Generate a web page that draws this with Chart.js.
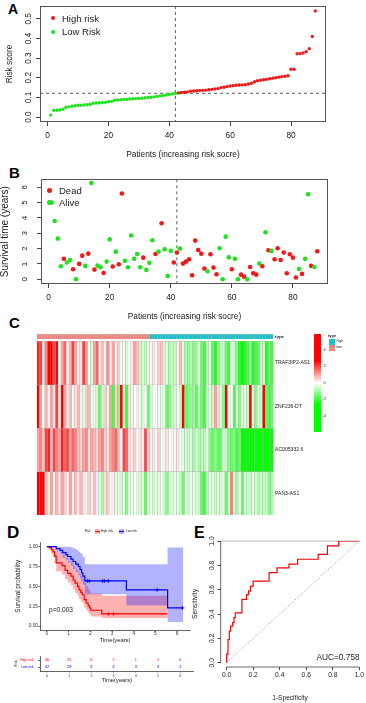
<!DOCTYPE html>
<html>
<head>
<meta charset="utf-8">
<title>Risk model</title>
<script src="https://cdn.jsdelivr.net/npm/chart.js@4.4.1/dist/chart.umd.min.js"></script>
<style>
  html, body { margin: 0; padding: 0; background: #fff; }
  body { position: relative; width: 366px; height: 703px; overflow: hidden; font-family: "Liberation Sans", Arial, sans-serif; color: #222; }
  canvas { position: absolute; }
  .tag { position: absolute; font-weight: bold; line-height: 1; color: #000; }
  .txt { position: absolute; white-space: nowrap; line-height: 1; }
  .dot { position: absolute; border-radius: 50%; }
  .key { position: absolute; }
</style>
</head>
<body>

<div class="tag" style="left:8px;top:1.5px;font-size:14px">A</div>
<div class="tag" style="left:9px;top:164.7px;font-size:15px">B</div>
<div class="tag" style="left:9px;top:314.7px;font-size:15px">C</div>
<div class="tag" style="left:7px;top:523.8px;font-size:17px">D</div>
<div class="tag" style="left:194px;top:524.6px;font-size:16px">E</div>

<canvas id="riskChart" width="330" height="160" style="left:0;top:0"></canvas>
<div class="dot" style="left:50.8px;top:16.1px;width:4.4px;height:4.4px;background:#f21818"></div>
<div class="txt" style="left:62px;top:13.8px;font-size:9.5px">High risk</div>
<div class="dot" style="left:50.8px;top:29.5px;width:4.4px;height:4.4px;background:#1de21d"></div>
<div class="txt" style="left:62px;top:27.2px;font-size:9.5px">Low Risk</div>

<canvas id="survChart" width="332" height="172" style="left:0;top:150px"></canvas>
<div class="dot" style="left:47px;top:188.4px;width:4.7px;height:4.7px;background:#f21818"></div>
<div class="txt" style="left:59px;top:186.2px;font-size:9.5px">Dead</div>
<div class="dot" style="left:47px;top:200px;width:4.7px;height:4.7px;background:#1de21d"></div>
<div class="txt" style="left:59px;top:197.8px;font-size:9.5px">Alive</div>

<canvas id="heatChart" width="310" height="190" style="left:0;top:330px"></canvas>
<div id="heatLegend"></div>

<canvas id="kmChart" width="195" height="119" style="left:0;top:525px"></canvas>
<div class="txt" style="left:84.7px;top:530.2px;font-size:3px">Risk</div>
<div class="key" style="left:95px;top:529.2px;width:5px;height:5px;background:linear-gradient(to bottom,rgba(255,179,179,1) 40%,#f00 40%,#f00 60%,rgba(255,179,179,1) 60%)"></div>
<div class="txt" style="left:101px;top:530.2px;font-size:3px">High risk</div>
<div class="key" style="left:119.3px;top:529.2px;width:5px;height:5px;background:linear-gradient(to bottom,rgba(179,179,255,1) 40%,#00f 40%,#00f 60%,rgba(179,179,255,1) 60%)"></div>
<div class="txt" style="left:126px;top:530.2px;font-size:3px">Low risk</div>
<div class="txt" style="left:49px;top:607px;font-size:6.6px">p=0.003</div>

<canvas id="tableChart" width="195" height="35" style="left:0;top:650px"></canvas>

<canvas id="rocChart" width="181" height="173" style="left:185px;top:530px"></canvas>
<div class="txt" style="left:316.5px;top:652.8px;font-size:8.3px">AUC=0.758</div>

<script>
const FONT = '"Liberation Sans", Arial, sans-serif';
const RED = '#f21818';
const GREEN = '#1de21d';
const KM_RED = '#ff0000';
const KM_BLUE = '#0000ff';
const LOW_SALMON = '#f3867f';
const HIGH_CYAN = '#19c3cc';

// A: risk score of each patient, sorted
const riskScore = [
  0.01, 0.035, 0.035, 0.036, 0.04, 0.05, 0.052, 0.055, 0.058, 0.06,
  0.06, 0.062, 0.063, 0.065, 0.07, 0.072, 0.073, 0.074, 0.075, 0.078,
  0.08, 0.085, 0.087, 0.088, 0.09, 0.09, 0.092, 0.093, 0.094, 0.095,
  0.096, 0.098, 0.1, 0.101, 0.103, 0.105, 0.108, 0.11, 0.112, 0.115,
  0.118, 0.12, 0.123, 0.125, 0.126, 0.128, 0.132, 0.133, 0.134, 0.135,
  0.136, 0.137, 0.139, 0.141, 0.143, 0.145, 0.15, 0.152, 0.155, 0.158,
  0.16, 0.162, 0.163, 0.164, 0.165, 0.168, 0.172, 0.18, 0.185, 0.187,
  0.19, 0.192, 0.195, 0.198, 0.2, 0.203, 0.206, 0.208, 0.21, 0.243,
  0.243, 0.322, 0.323, 0.326, 0.333, 0.348, 0.41, 0.54
];
const patients = riskScore.map((_, i) => i + 1);
const cutoffPatient = 42;
const cutoffScore = 0.121;
const patientTicks = [0, 20, 40, 60, 80];
const riskTicks = [0, 0.1, 0.2, 0.3, 0.4, 0.5];

// B: survival time (years) and status (1 = dead)
const survTime = [
  5.0, 3.8, 2.65, 0.85, 1.33, 1.09, 1.26, 0.65, 0.0, 1.0,
  1.54, 0.87, 1.67, 6.28, 0.63, 0.89, 0.78, 0.41, 1.15, 2.6,
  0.83, 1.8, 0.98, 5.59, 1.2, 0.78, 2.85, 1.33, 1.65, 0.78,
  1.41, 0.61, 1.07, 2.54, 1.65, 1.8, 3.65, 1.96, 0.22, 1.85,
  1.09, 1.74, 2.0, 1.02, 1.15, 1.3, 0.26, 2.52, 1.91, 1.67,
  0.7, 0.52, 1.63, 0.76, 0.33, 2.02, 0.0, 2.78, 1.43, 0.65,
  1.33, 0.0, 0.3, 0.17, 0.0, 0.8, 0.39, 0.3, 1.02, 0.85,
  3.07, 1.89, 1.85, 1.3, 2.02, 1.26, 1.74, 0.39, 1.63, 1.41,
  0.11, 0.67, 0.35, 1.33, 5.54, 0.87, 0.8, 1.83
];
const survDead = [
  0, 0, 0, 0, 1, 0, 0, 1, 0, 1,
  1, 0, 1, 0, 1, 0, 0, 1, 0, 0,
  1, 0, 1, 1, 0, 0, 0, 0, 0, 0,
  1, 0, 0, 0, 1, 0, 1, 0, 0, 0,
  1, 1, 0, 1, 1, 1, 1, 1, 1, 1,
  1, 0, 1, 1, 1, 0, 0, 0, 0, 1,
  0, 0, 1, 1, 0, 1, 1, 1, 0, 1,
  0, 1, 0, 1, 1, 1, 1, 1, 1, 1,
  1, 0, 1, 0, 0, 1, 0, 1
];
const survTicks = [0, 1, 2, 3, 4, 5, 6];

// C: expression heatmap (patients in risk order)
const genes = ['TRAF3IP2-AS1', 'ZNF236-DT', 'AC005332.6', 'PAN3-AS1'];
const exprTRAF3IP2 = [
  3.5, 3, 0.5, 2, 4, 4.5, 3, 4, 0, 1.5,
  2.5, 0.3, 1.2, 3, 1.5, 0.2, 0.5, 3, 1.5, 0,
  -0.8, 1.5, 2.5, 0.5, 1, 0.3, 1.8, 0.4, 1.5, 0.3,
  0.8, -0.3, 0.2, -0.8, 0, 0.4, 1.5, 1, -1, -0.5,
  -1.2, 0.2, -0.3, 0.5, 0, 0.8, 1, -0.8, -0.5, -1.3,
  -0.8, -1, 0.2, 1.2, -0.5, -1.5, -1.8, -1.2, -2, -1.5,
  -0.5, -2.5, -3, -1, -0.5, -2.5, -3.5, -2, -0.8, -1,
  -2.5, -3, -0.3, -1, -2, -3.5, -4, -3.5, -3, -1.5,
  -3.5, -3, -2.5, -0.5, -1, -3.5, -2.5, -3
];
const exprZNF236 = [
  4.5, 1.5, 0, 1.2, 0.2, 1.5, 0.5, 3, 0.5, 4.5,
  1.5, 0.3, 1, -0.3, 0.5, 1.2, 0.2, -0.5, 0.8, 1.2,
  -0.5, 0.3, -0.8, -2.5, -0.5, 0.8, -0.5, 1.5, -3, 0.8,
  -2, 4.5, -1, -3, 0.5, -0.5, 0, 0.3, -0.5, -0.8,
  0, -2.5, -0.5, 0, -0.3, 0.2, -0.5, -0.3, -2.5, -2,
  -0.5, -0.8, -0.2, -1, 4.8, -2.5, -2, -1.8, -1.5, -2.5,
  -1, -2.5, -3, -0.5, -0.5, -1, 1.5, 0.5, -0.5, -2,
  4, -0.5, 0, -3, -0.5, -2, 0.3, -0.5, -1, 4.5,
  -0.5, -2, -0.3, -1, 4, -2.5, -3, -2.5
];
const exprAC005332 = [
  1.5, 2, 1, 3, 3.5, 1.2, 3, 2, 1.5, 3.5,
  2.5, 3, 1.5, 2.5, 2, 1, 0.8, 1.5, 2, 0.5,
  1.5, 1.2, 0.8, 1.5, 2, 0.8, 0.5, 1.5, 2, 2.5,
  1, 0.3, 3, 2.5, 0.5, 0.3, 0.8, 0, 0.5, 0.3,
  3, 0.8, 0.2, 0.5, 0, 0.8, -0.3, 0.2, 0.5, 0,
  -0.3, 0.2, 0.5, -0.2, -0.5, -0.8, -1, -0.5, -1.5, -0.5,
  -1.5, -1, -1.2, -0.3, -2, -2.5, -2, -2.5, -2.5, -0.5,
  -1, -2, -2.5, -2, -3, -2.5, -4, -4.5, -4, -4.5,
  -5, -4.5, -5, -4.5, -5, -5, -4.5, -5
];
const exprPAN3 = [
  4.5, 4.5, 4, 1, -0.8, 1.5, 0.3, 1.2, 0.5, 1.5,
  0.8, 0.2, 1.5, 0.3, 1, 0.2, 1.2, 0.5, 0.2, 0.8,
  0.3, 1, 0.2, -0.5, -1.5, 0.5, 0.8, -0.3, 0.3, -0.5,
  0.3, -0.8, -0.3, -2, -0.5, -0.3, 0, -0.5, -0.8, -0.3,
  -2.5, -0.5, 0, -0.8, -0.3, -0.5, -0.2, -1, -2, -0.8,
  -0.5, -0.3, -0.5, -0.8, -2.5, -0.5, -0.8, -0.3, -0.5, -0.5,
  -1, -2.5, -3, -0.8, -0.5, -0.3, -1, -0.5, -0.8, -0.5,
  -2.5, -0.8, 2, -0.5, -1.5, -0.3, -2.5, -0.5, -0.8, -1,
  -0.5, -0.8, -1.2, -0.8, -1, -0.8, -2, -1.5
];
const heatLegendTicks = [4, 2, 0, -2, -4];
const typeLegend = ['high', 'low'];

// D: Kaplan-Meier curves
const highTimes = [0, 0.1, 0.21, 0.28, 0.36, 0.43, 0.7, 0.84, 0.96, 1.11, 1.21, 1.3, 1.41, 1.48, 1.56, 1.63, 1.72, 1.81, 1.9, 1.96, 2.02, 2.53, 5.56];
const highSurv  = [1, 0.987, 0.963, 0.934, 0.88, 0.797, 0.76, 0.705, 0.664, 0.63, 0.58, 0.54, 0.5, 0.456, 0.423, 0.394, 0.332, 0.29, 0.257, 0.228, 0.199, 0.154, 0.154];
const highUpper = [1, 1, 1, 1, 0.98, 0.93, 0.9, 0.86, 0.82, 0.8, 0.76, 0.72, 0.69, 0.66, 0.63, 0.6, 0.55, 0.5, 0.47, 0.44, 0.41, 0.38, 0.38];
const highLower = [1, 0.96, 0.91, 0.87, 0.79, 0.69, 0.65, 0.59, 0.55, 0.51, 0.46, 0.42, 0.38, 0.34, 0.31, 0.29, 0.23, 0.2, 0.17, 0.15, 0.12, 0.1, 0.1];
const highCensor = [2.83, 3.06];
const lowTimes = [0, 0.43, 0.61, 0.73, 0.88, 0.96, 1.11, 1.21, 1.33, 1.45, 1.53, 1.6, 1.66, 1.75, 3.66, 5.56, 6.28];
const lowSurv  = [1, 0.975, 0.954, 0.925, 0.9, 0.876, 0.842, 0.813, 0.78, 0.75, 0.71, 0.67, 0.63, 0.568, 0.456, 0.228, 0.228];
const lowUpper = [1, 1, 1, 1, 1, 1, 0.99, 0.98, 0.96, 0.94, 0.92, 0.9, 0.87, 0.78, 0.78, 0.99, 0.99];
const lowLower = [1, 0.93, 0.9, 0.86, 0.83, 0.8, 0.76, 0.72, 0.68, 0.64, 0.6, 0.56, 0.52, 0.4, 0.26, 0.05, 0.05];
const lowCensor = [1.86, 1.96, 2.56, 2.65, 2.83, 5.08, 6.24];
const kmTimeTicks = [0, 1, 2, 3, 4, 5, 6];
const kmSurvTicks = [0, 0.25, 0.5, 0.75, 1];
const riskGroups = ['High risk', 'Low risk'];
const atRiskHigh = [46, 25, 6, 2, 1, 1, 0];
const atRiskLow = [42, 29, 9, 6, 3, 3, 1];

// E: ROC curve
const rocFpr = [0, 0, 0.01, 0.01, 0.02, 0.02, 0.03, 0.03, 0.045, 0.045, 0.055, 0.055, 0.065, 0.065, 0.08, 0.08, 0.115, 0.115, 0.15, 0.15, 0.165, 0.165, 0.18, 0.18, 0.2, 0.2, 0.32, 0.32, 0.38, 0.38, 0.47, 0.47, 0.535, 0.535, 0.69, 0.69, 0.76, 0.76, 0.845, 0.845, 1];
const rocTpr = [0, 0.07, 0.07, 0.19, 0.19, 0.26, 0.26, 0.3, 0.3, 0.33, 0.33, 0.37, 0.37, 0.41, 0.41, 0.41, 0.41, 0.52, 0.52, 0.56, 0.56, 0.59, 0.59, 0.63, 0.63, 0.67, 0.67, 0.74, 0.74, 0.78, 0.78, 0.81, 0.81, 0.85, 0.85, 0.89, 0.89, 0.96, 0.96, 1, 1];
const rocTicks = [0, 0.2, 0.4, 0.6, 0.8, 1];

Chart.defaults.font.family = FONT;
Chart.defaults.color = '#222';
Chart.defaults.animation = false;
Chart.defaults.plugins.legend.display = false;
Chart.defaults.plugins.tooltip.enabled = false;

const setTicks = values => scale => { scale.ticks = values.map(v => ({ value: v })); };

// box round the plot region (R base graphics)
function boxFrame(color) {
  return {
    id: 'boxFrame',
    afterDatasetsDraw(chart) {
      const { ctx, chartArea: a } = chart;
      ctx.save();
      ctx.strokeStyle = color;
      ctx.lineWidth = 1;
      ctx.strokeRect(Math.round(a.left) + 0.5, Math.round(a.top) + 0.5,
        Math.round(a.right - a.left) - 1, Math.round(a.bottom - a.top) - 1);
      ctx.restore();
    }
  };
}

// dashed cut-off lines
function cutLines(xVal, yVal) {
  return {
    id: 'cutLines',
    beforeDatasetsDraw(chart) {
      const { ctx, chartArea: a, scales } = chart;
      ctx.save();
      ctx.setLineDash([3, 3]);
      ctx.strokeStyle = '#333';
      ctx.lineWidth = 0.8;
      ctx.beginPath();
      if (xVal != null) {
        const px = scales.x.getPixelForValue(xVal);
        ctx.moveTo(px, a.top); ctx.lineTo(px, a.bottom);
      }
      if (yVal != null) {
        const py = scales.y.getPixelForValue(yVal);
        ctx.moveTo(a.left, py); ctx.lineTo(a.right, py);
      }
      ctx.stroke();
      ctx.restore();
    }
  };
}

// R style y tick labels, parallel to the axis
function rotatedYLabels(values, offset, size, decimals) {
  return {
    id: 'rotY',
    afterDraw(chart) {
      const { ctx, chartArea: a } = chart;
      const s = chart.scales.y;
      ctx.save();
      ctx.font = size + 'px ' + FONT;
      ctx.fillStyle = '#222';
      ctx.textAlign = 'center';
      ctx.textBaseline = 'middle';
      values.forEach(v => {
        ctx.save();
        ctx.translate(a.left - offset, s.getPixelForValue(v));
        ctx.rotate(-Math.PI / 2);
        ctx.fillText(v.toFixed(decimals), 0, 0);
        ctx.restore();
      });
      ctx.restore();
    }
  };
}

const rAxisGrid = { drawOnChartArea: false, tickLength: 4, color: '#444' };

// ---------- A ----------
new Chart(document.getElementById('riskChart'), {
  type: 'scatter',
  data: {
    datasets: [{
      data: riskScore.map((v, i) => ({ x: patients[i], y: v })),
      pointRadius: 1.7,
      pointBorderWidth: 0,
      pointBackgroundColor: patients.map(p => p > cutoffPatient ? RED : GREEN)
    }]
  },
  options: {
    responsive: false,
    layout: { padding: { top: 6, right: 0, bottom: 0, left: 0 } },
    scales: {
      x: {
        type: 'linear', min: -2.5, max: 91.5,
        afterBuildTicks: setTicks(patientTicks),
        afterFit: s => { s.height = 38; },
        border: { display: false },
        grid: rAxisGrid,
        ticks: { font: { size: 8.3 }, color: '#222', padding: 5, maxRotation: 0 },
        title: { display: true, text: 'Patients (increasing risk socre)', font: { size: 8.3 }, color: '#222', padding: { top: 0, bottom: 0 } }
      },
      y: {
        min: -0.025, max: 0.565,
        afterBuildTicks: setTicks(riskTicks),
        afterFit: s => { s.width = 40; },
        border: { display: false },
        grid: rAxisGrid,
        ticks: { display: false },
        title: { display: true, text: 'Risk score', font: { size: 8.3 }, color: '#222', padding: { top: 5, bottom: 0 } }
      }
    }
  },
  plugins: [boxFrame('#555'), cutLines(cutoffPatient, cutoffScore), rotatedYLabels(riskTicks, 11.5, 8.3, 1)]
});

// ---------- B ----------
new Chart(document.getElementById('survChart'), {
  type: 'scatter',
  data: {
    datasets: [{
      data: survTime.map((v, i) => ({ x: patients[i], y: v })),
      pointRadius: 2.3,
      pointBorderWidth: 0,
      pointBackgroundColor: survDead.map(d => d ? RED : GREEN)
    }]
  },
  options: {
    responsive: false,
    layout: { padding: { top: 29.3, right: 0, bottom: 0, left: 0 } },
    scales: {
      x: {
        type: 'linear', min: -2.5, max: 91.5,
        afterBuildTicks: setTicks(patientTicks),
        afterFit: s => { s.height = 38; },
        border: { display: false },
        grid: rAxisGrid,
        ticks: { font: { size: 8.3 }, color: '#222', padding: 5, maxRotation: 0 },
        title: { display: true, text: 'Patients (increasing risk socre)', font: { size: 8.3 }, color: '#222', padding: { top: 0, bottom: 0 } }
      },
      y: {
        min: -0.31, max: 6.52,
        afterBuildTicks: setTicks(survTicks),
        afterFit: s => { s.width = 41; },
        border: { display: false },
        grid: rAxisGrid,
        ticks: { display: false },
        title: { display: true, text: 'Survival time (years)', font: { size: 10 }, color: '#222', padding: { top: -1, bottom: 0 } }
      }
    }
  },
  plugins: [boxFrame('#555'), cutLines(cutoffPatient, null), rotatedYLabels(survTicks, 16.5, 8, 0)]
});

// ---------- C ----------
const HEAT_SAT = 4;
function heatColor(v) {
  const t = Math.max(-1, Math.min(1, v / HEAT_SAT));
  if (t >= 0) {
    const c = Math.round(255 * (1 - t));
    return 'rgb(255,' + c + ',' + c + ')';
  }
  const c = Math.round(255 * (1 + t));
  return 'rgb(' + c + ',255,' + c + ')';
}
const heatRows = [exprTRAF3IP2, exprZNF236, exprAC005332, exprPAN3];
const annoBottom = 4.053, annoTop = 4.161;
const heatCell = { borderColor: '#ababab', borderWidth: 0.35, borderSkipped: false, barPercentage: 1, categoryPercentage: 1, grouped: false };

new Chart(document.getElementById('heatChart'), {
  type: 'bar',
  data: {
    labels: patients,
    datasets: heatRows.map((vals, r) => Object.assign({
      data: vals.map(() => [genes.length - 1 - r, genes.length - r]),
      backgroundColor: vals.map(heatColor)
    }, heatCell)).concat([Object.assign({
      data: patients.map(() => [annoBottom, annoTop]),
      backgroundColor: patients.map(p => p > cutoffPatient ? HIGH_CYAN : LOW_SALMON)
    }, heatCell)])
  },
  options: {
    responsive: false,
    layout: { padding: { top: 4, right: 0, bottom: 5, left: 36.7 } },
    scales: {
      x: { type: 'category', display: false },
      y: {
        type: 'linear', position: 'right', min: 0, max: annoTop,
        afterBuildTicks: s => {
          s.ticks = genes.map((g, i) => ({ value: genes.length - i - 0.5 })).reverse()
            .concat([{ value: (annoBottom + annoTop) / 2 }]);
        },
        afterFit: s => { s.width = 36.7; },
        border: { display: false },
        grid: { display: false, drawTicks: false },
        ticks: {
          padding: 1.7, color: '#222', autoSkip: false,
          font: c => c.index === genes.length ? { size: 4.4, weight: 'bold' } : { size: 5.1 },
          callback: (v, i) => genes.slice().reverse().concat(['type'])[i]
        }
      }
    }
  }
});

// heatmap legends (colour key and annotation key)
(function () {
  const host = document.getElementById('heatLegend');
  const barTop = 334, barH = 97.7, vTop = 5.9, pxPerUnit = 8.25;
  const bar = document.createElement('div');
  bar.className = 'key';
  bar.style.cssText = 'left:314px;top:' + barTop + 'px;width:7px;height:' + barH + 'px;' +
    'background:linear-gradient(to bottom,#f00 0%,#f00 27%,#fff 50%,#0f0 72%,#0f0 100%)';
  host.appendChild(bar);
  heatLegendTicks.forEach(v => {
    const d = document.createElement('div');
    d.className = 'txt';
    d.textContent = String(v);
    d.style.cssText = 'left:' + (v < 0 ? 322.3 : 323.5) + 'px;top:' + (barTop + (vTop - v) * pxPerUnit - 2) + 'px;font-size:4px';
    host.appendChild(d);
  });
  const t = document.createElement('div');
  t.className = 'txt';
  t.textContent = 'type';
  t.style.cssText = 'left:328px;top:333.6px;font-size:4px;font-weight:bold';
  host.appendChild(t);
  typeLegend.forEach((name, i) => {
    const k = document.createElement('div');
    k.className = 'key';
    k.style.cssText = 'left:329px;top:' + (339 + i * 6) + 'px;width:6px;height:5.5px;background:' + (i === 0 ? HIGH_CYAN : LOW_SALMON);
    host.appendChild(k);
    const l = document.createElement('div');
    l.className = 'txt';
    l.textContent = name;
    l.style.cssText = 'left:336.5px;top:' + (340 + i * 6) + 'px;font-size:3.6px';
    host.appendChild(l);
  });
})();

// ---------- D ----------
const kmPoints = (times, vals) => times.map((t, i) => ({ x: t, y: vals[i] }));
function survAt(times, surv, t) {
  let s = surv[0];
  times.forEach((ti, i) => { if (ti <= t) s = surv[i]; });
  return s;
}
const kmLine = { stepped: 'before', pointRadius: 0, borderWidth: 1.2, fill: false, order: 0 };
const kmBand = { stepped: 'before', pointRadius: 0, borderWidth: 0, order: 3 };
const kmAxisGrid = { drawOnChartArea: false, tickLength: 1.5, color: '#000', lineWidth: 0.6 };

new Chart(document.getElementById('kmChart'), {
  type: 'line',
  data: {
    datasets: [
      Object.assign({ data: kmPoints(lowTimes, lowSurv), borderColor: KM_BLUE }, kmLine),
      Object.assign({ data: kmPoints(highTimes, highSurv), borderColor: KM_RED }, kmLine),
      { type: 'scatter', data: lowCensor.map(t => ({ x: t, y: survAt(lowTimes, lowSurv, t) })), pointStyle: 'cross', pointRadius: 2, pointBorderWidth: 0.8, pointBorderColor: KM_BLUE, order: 0 },
      { type: 'scatter', data: highCensor.map(t => ({ x: t, y: survAt(highTimes, highSurv, t) })), pointStyle: 'cross', pointRadius: 2, pointBorderWidth: 0.8, pointBorderColor: KM_RED, order: 0 },
      Object.assign({ data: kmPoints(lowTimes, lowUpper), fill: false }, kmBand),
      Object.assign({ data: kmPoints(lowTimes, lowLower), fill: '-1', backgroundColor: 'rgba(0,0,255,0.3)' }, kmBand),
      Object.assign({ data: kmPoints(highTimes, highUpper), fill: false }, kmBand),
      Object.assign({ data: kmPoints(highTimes, highLower), fill: '-1', backgroundColor: 'rgba(255,0,0,0.3)' }, kmBand)
    ]
  },
  options: {
    responsive: false,
    layout: { padding: { top: 17.7, right: 1.5, bottom: 0, left: 0 } },
    scales: {
      x: {
        type: 'linear', min: -0.315, max: 6.6,
        afterBuildTicks: setTicks(kmTimeTicks),
        afterFit: s => { s.height = 14; },
        border: { color: '#000', width: 0.6 },
        grid: kmAxisGrid,
        ticks: { font: { size: 4.8 }, color: '#333', padding: -0.5, maxRotation: 0 },
        title: { display: true, text: 'Time(years)', font: { size: 5.8 }, color: '#222', padding: { top: 0, bottom: 0 } }
      },
      y: {
        type: 'linear', min: -0.05, max: 1.05,
        afterBuildTicks: setTicks(kmSurvTicks),
        afterFit: s => { s.width = 40; },
        border: { color: '#000', width: 0.6 },
        grid: kmAxisGrid,
        ticks: { font: { size: 4.8 }, color: '#333', padding: 0.5, callback: v => v.toFixed(2) },
        title: { display: true, text: 'Survival probability', font: { size: 6.3 }, color: '#222', padding: { top: 14.2, bottom: 0 } }
      }
    }
  }
});

// numbers at risk
new Chart(document.getElementById('tableChart'), {
  type: 'scatter',
  data: { datasets: [] },
  options: {
    responsive: false,
    layout: { padding: { top: 6.3, right: 1.5, bottom: 0, left: 0 } },
    scales: {
      x: {
        type: 'linear', min: -0.315, max: 6.6,
        afterBuildTicks: setTicks(kmTimeTicks),
        afterFit: s => { s.height = 14; },
        border: { color: '#000', width: 0.6 },
        grid: kmAxisGrid,
        ticks: { font: { size: 3.6 }, color: '#333', padding: 1.1, maxRotation: 0 },
        title: { display: true, text: 'Time(years)', font: { size: 5.8 }, color: '#222', padding: { top: 0, bottom: 1.5 } }
      },
      y: {
        type: 'category', labels: riskGroups, offset: true,
        afterFit: s => { s.width = 40; },
        border: { color: '#000', width: 0.6 },
        grid: { drawOnChartArea: false, tickLength: 2, color: '#000', lineWidth: 0.6, offset: false },
        ticks: { font: { size: 3.4 }, padding: 4.5, color: c => c.index === 0 ? KM_RED : KM_BLUE },
        title: { display: true, text: 'Risk', font: { size: 3.4 }, color: '#222', padding: { top: 13.9, bottom: 0 } }
      }
    }
  },
  plugins: [{
    id: 'atRisk',
    afterDraw(chart) {
      const { ctx, scales: { x, y } } = chart;
      ctx.save();
      ctx.font = '3.9px ' + FONT;
      ctx.textAlign = 'center';
      ctx.textBaseline = 'middle';
      [atRiskHigh, atRiskLow].forEach((row, r) => {
        ctx.fillStyle = r === 0 ? KM_RED : KM_BLUE;
        row.forEach((n, i) => ctx.fillText(String(n), x.getPixelForValue(kmTimeTicks[i]), y.getPixelForValue(r)));
      });
      ctx.restore();
    }
  }]
});

// ---------- E ----------
new Chart(document.getElementById('rocChart'), {
  type: 'line',
  data: {
    datasets: [{
      data: rocFpr.map((f, i) => ({ x: f, y: rocTpr[i] })),
      borderColor: KM_RED, borderWidth: 1.2, pointRadius: 0, tension: 0, fill: false
    }]
  },
  options: {
    responsive: false,
    layout: { padding: { top: 11, right: 6.7, bottom: 0, left: 0 } },
    scales: {
      x: {
        type: 'linear', min: -0.045, max: 1,
        afterBuildTicks: setTicks(rocTicks),
        afterFit: s => { s.height = 36; },
        border: { display: false },
        grid: { drawOnChartArea: false, tickLength: 3, color: '#444' },
        ticks: { font: { size: 6.7 }, color: '#222', padding: 1, maxRotation: 0, callback: v => v.toFixed(1) },
        title: { display: true, text: '1-Specificity', font: { size: 6.6 }, color: '#222', padding: { top: 0, bottom: 1 } }
      },
      y: {
        type: 'linear', min: -0.035, max: 1,
        afterBuildTicks: setTicks(rocTicks),
        afterFit: s => { s.width = 35.7; },
        border: { display: false },
        grid: { drawOnChartArea: false, tickLength: 3, color: '#444' },
        ticks: { display: false },
        title: { display: true, text: 'Sensitivity', font: { size: 6.7 }, color: '#222', padding: { top: 6, bottom: 0 } }
      }
    }
  },
  plugins: [rotatedYLabels(rocTicks, 8.9, 6.7, 1), {
    id: 'rocAxes',
    beforeDatasetsDraw(chart) {
      const { ctx, chartArea: a, scales: { x, y } } = chart;
      const lo = rocTicks[0], hi = rocTicks[rocTicks.length - 1];
      ctx.save();
      ctx.strokeStyle = '#444';
      ctx.lineWidth = 0.8;
      ctx.beginPath();
      ctx.moveTo(x.getPixelForValue(lo), a.bottom); ctx.lineTo(x.getPixelForValue(hi), a.bottom);
      ctx.moveTo(a.left, y.getPixelForValue(lo)); ctx.lineTo(a.left, y.getPixelForValue(hi));
      ctx.stroke();
      ctx.strokeStyle = '#999';
      ctx.lineWidth = 0.7;
      ctx.beginPath();
      ctx.moveTo(a.left, y.getPixelForValue(hi)); ctx.lineTo(x.getPixelForValue(hi), y.getPixelForValue(hi));
      ctx.stroke();
      ctx.setLineDash([1.2, 2]);
      ctx.strokeStyle = '#777';
      ctx.beginPath();
      ctx.moveTo(x.getPixelForValue(lo), y.getPixelForValue(lo));
      ctx.lineTo(x.getPixelForValue(hi), y.getPixelForValue(hi));
      ctx.stroke();
      ctx.restore();
    }
  }]
});
</script>
</body>
</html>
